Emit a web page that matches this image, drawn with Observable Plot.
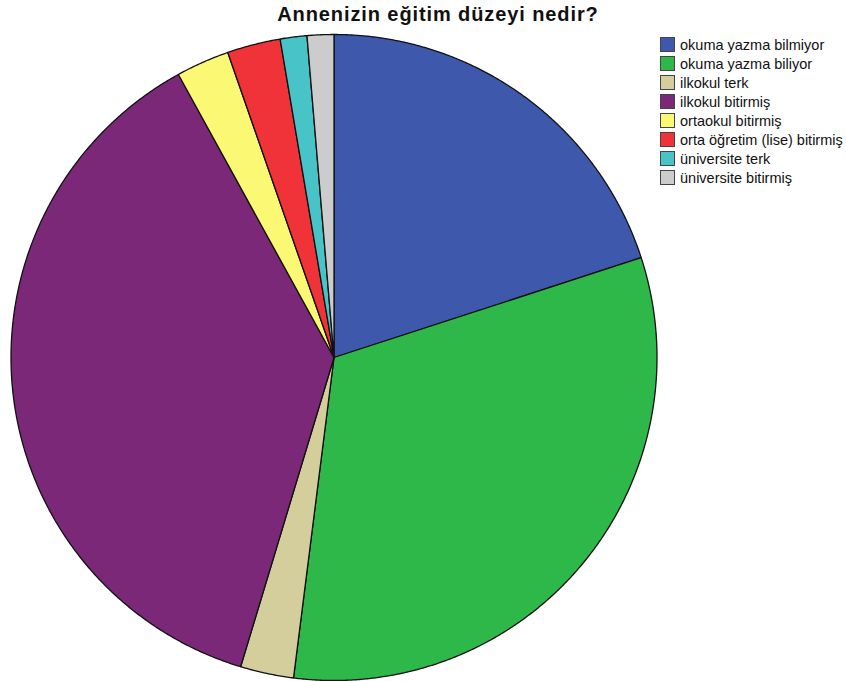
<!DOCTYPE html>
<html>
<head>
<meta charset="utf-8">
<script src="https://cdn.jsdelivr.net/npm/d3@7"></script>
<script src="https://cdn.jsdelivr.net/npm/@observablehq/plot@0.6"></script>
<style>
  html, body { margin: 0; padding: 0; background: #fff; }
  #wrap { position: relative; width: 846px; height: 681px; overflow: hidden; font-family: "Liberation Sans", Arial, sans-serif; }
  #title { position: absolute; left: 0; width: 876px; top: 3px; text-align: center; font-weight: bold; font-size: 20px; letter-spacing: 0.9px; color: #111; }
  #legend { position: absolute; left: 660px; top: 35px; font-size: 14.5px; color: #111; }
  .row { display: flex; align-items: center; height: 19px; white-space: nowrap; }
  .sw { width: 15px; height: 15px; border: 1px solid #444; margin-right: 5px; box-sizing: border-box; flex: none; }
  #chart { position: absolute; left: 0; top: 0; }
</style>
</head>
<body>
<div id="wrap">
  <div id="chart"></div>
  <div id="title"></div>
  <div id="legend"></div>
</div>
<script>
const title = "Annenizin eğitim düzeyi nedir?";
const categories = ["okuma yazma bilmiyor", "okuma yazma biliyor", "ilkokul terk", "ilkokul bitirmiş", "ortaokul bitirmiş", "orta öğretim (lise) bitirmiş", "üniversite terk", "üniversite bitirmiş"];
const counts = [15, 24, 2, 28, 2, 2, 1, 1];
const colors = ["#3e58ac", "#2eb84a", "#d4ce9c", "#7a2877", "#fbf874", "#ef3339", "#48c4c8", "#cccccc"];

const pie = d3.pie().sort(null).value(d => d.count).startAngle(0).endAngle(2 * Math.PI);
const arcs = pie(categories.map((c, i) => ({category: c, count: counts[i]})));

// polygon outline of each slice (arc sampled finely)
const pts = [];
arcs.forEach(a => {
  const cat = a.data.category;
  pts.push({category: cat, x: 0, y: 0});
  const n = Math.max(2, Math.ceil((a.endAngle - a.startAngle) / 0.005));
  for (let k = 0; k <= n; k++) {
    const t = a.startAngle + (a.endAngle - a.startAngle) * k / n;
    pts.push({category: cat, x: Math.sin(t), y: Math.cos(t)});
  }
  pts.push({category: cat, x: 0, y: 0});
});

const chart = Plot.plot({
  width: 846,
  height: 681,
  margin: 0,
  x: {domain: [-1, 1], range: [10.5, 656.5], axis: null},
  y: {domain: [-1, 1], range: [680, 34], axis: null},
  color: {domain: categories, range: colors},
  marks: [
    Plot.line(pts, {x: "x", y: "y", z: "category", fill: "category", stroke: "#111", strokeWidth: 1.3, strokeLinejoin: "round"})
  ]
});
document.getElementById("chart").appendChild(chart);
document.getElementById("title").textContent = title;

const leg = document.getElementById("legend");
categories.forEach((c, i) => {
  const row = document.createElement("div");
  row.className = "row";
  const sw = document.createElement("div");
  sw.className = "sw";
  sw.style.background = colors[i];
  const lab = document.createElement("span");
  lab.textContent = c;
  row.appendChild(sw);
  row.appendChild(lab);
  leg.appendChild(row);
});
</script>
</body>
</html>
